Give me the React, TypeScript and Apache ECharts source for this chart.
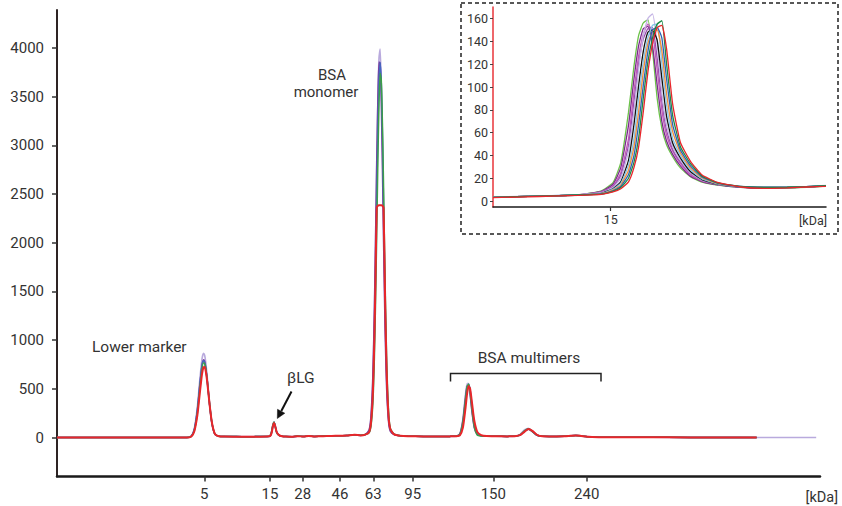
import React, { useEffect, useRef } from "react";
import * as echarts from "echarts";

// ---- Axis labels (size ladder, kDa) ----
const ladderLabels = ["5", "15", "28", "46", "63", "95", "150", "240"];
const ladderPositions = [19.31, 27.92, 32.2, 37.09, 41.45, 46.62, 57.18, 69.42];
const yTicks = [0, 500, 1000, 1500, 2000, 2500, 3000, 3500, 4000];
const insetYTicks = [0, 20, 40, 60, 80, 100, 120, 140, 160];

// ---- Main electropherogram (migration time, arbitrary units) ----
const migrationTime = [
  0, 10, 17.0, 17.6, 18.0, 18.4, 18.7, 19.0, 19.2, 19.35, 19.5, 19.7, 20.0, 20.3, 20.7, 21.2,
  22, 23.5, 25, 26.5, 27.5,
  27.9, 28.1, 28.3, 28.45, 28.6, 28.8, 29.1, 29.5, 30,
  30.8, 31.5, 32.3, 33, 33.8, 34.5, 35.3, 36, 37, 38, 39, 39.8, 40.4,
  40.9, 41.15, 41.4, 41.6, 41.75, 41.9, 42.05, 42.2, 42.35, 42.5, 42.65, 42.8, 43.0, 43.2, 43.45, 43.7, 44.2, 45,
  46, 48, 50, 51.5, 52.3,
  52.8, 53.2, 53.5, 53.75, 53.95, 54.15, 54.4, 54.7, 55.1, 55.6, 56.3,
  57.5, 59, 60,
  60.7, 61.3, 61.8, 62.3, 62.9, 63.6, 64.5,
  65.5, 66.5, 67.3, 68, 68.7, 69.5, 71, 73, 76, 80, 86, 91.7, 96, 99.5,
];

const sampleLavender = [
  0, 0, 0, 17, 95, 320, 580, 805, 865, 845, 770, 614, 355, 153, 34, 15,
  12, 10, 9, 10, 11,
  16, 55, 135, 162, 110, 48, 22, 13, 10,
  9, 15, 11, 17, 12, 14, 16, 18, 19, 21, 29, 23, 31,
  70, 195, 585, 1257, 1950, 2733, 3430, 3898, 3990, 3630, 2990, 2200, 1257, 585, 195, 70, 30, 18,
  15, 12, 11, 12, 14,
  40, 190, 415, 555, 555, 450, 260, 100, 32, 18, 14,
  13, 12, 14,
  33, 80, 95, 61, 23, 13, 12,
  12, 13, 19, 23, 17, 9, 5, 4, 3, 2, 2, 1, 1, 1,
];

const samplePurple = [
  0, 0, 0, 14, 80, 280, 520, 735, 798, 785, 720, 585, 340, 150, 33, 14,
  11, 10, 9, 10, 11,
  15, 48, 128, 158, 115, 52, 23, 13, 10,
  9, 14, 11, 16, 12, 14, 16, 18, 19, 21, 28, 23, 31,
  77, 223, 651, 1345, 2060, 2830, 3470, 3857, 3843, 3440, 2770, 2010, 1100, 507, 164, 62, 30, 18,
  15, 12, 11, 12, 14,
  37, 180, 390, 532, 532, 435, 255, 100, 30, 18, 14,
  13, 12, 14,
  27, 68, 85, 60, 24, 13, 12,
  12, 13, 18, 22, 16, 8, 4, 3, 2, 2, 1, 1, null, null,
];

const sampleBlue = [
  0, 0, 0, 14, 85, 290, 530, 740, 788, 770, 705, 565, 330, 145, 32, 14,
  11, 10, 9, 10, 11,
  13, 42, 118, 155, 122, 57, 25, 14, 10,
  9, 14, 10, 16, 11, 13, 15, 17, 18, 20, 27, 22, 30,
  57, 151, 454, 1020, 1655, 2387, 3120, 3645, 3850, 3645, 3120, 2387, 1425, 693, 220, 84, 32, 18,
  15, 12, 11, 12, 14,
  28, 135, 330, 500, 545, 490, 320, 135, 35, 18, 14,
  13, 12, 14,
  25, 67, 88, 66, 26, 13, 12,
  12, 13, 18, 22, 16, 8, 4, 3, 2, 2, 1, 1, null, null,
];

const sampleGreen = [
  0, 0, 0, 12, 70, 250, 480, 700, 765, 760, 705, 580, 345, 155, 36, 14,
  11, 10, 9, 10, 11,
  16, 52, 132, 160, 112, 50, 22, 13, 10,
  9, 15, 11, 17, 12, 14, 16, 18, 19, 21, 29, 23, 31,
  48, 114, 355, 827, 1390, 2070, 2820, 3420, 3740, 3670, 3230, 2575, 1610, 827, 280, 90, 35, 18,
  15, 12, 11, 12, 14,
  33, 159, 360, 522, 551, 469, 283, 110, 23, 16, 14,
  13, 12, 14,
  28, 72, 90, 63, 25, 13, 12,
  12, 13, 18, 22, 16, 8, 4, 3, 2, 2, 1, 1, null, null,
];

const sampleRed = [
  0, 0, 0, 11, 65, 230, 443, 650, 723, 725, 680, 563, 337, 155, 37, 14,
  10, 9, 8, 9, 10,
  14, 40, 115, 150, 118, 55, 25, 14, 10,
  8, 14, 10, 16, 11, 13, 15, 17, 18, 20, 28, 22, 30,
  55, 150, 460, 1030, 1660, 2360, 2380, 2385, 2385, 2385, 2380, 2360, 1420, 690, 220, 85, 32, 18,
  14, 12, 11, 12, 14,
  22, 104, 277, 451, 528, 500, 350, 170, 55, 25, 15,
  13, 12, 14,
  24, 61, 87, 68, 28, 13, 12,
  12, 13, 18, 22, 16, 8, 4, 3, 2, 2, 1, 1, null, null,
];

// ---- Inset: zoom on the βLG peak ----
const insetTime = [
  26.4, 27.0, 27.5, 27.8, 27.95, 28.05, 28.15, 28.22, 28.28, 28.34, 28.40, 28.46, 28.52,
  28.58, 28.64, 28.72, 28.82, 28.95, 29.1, 29.3, 29.6, 29.9, 30.2, 30.45, 30.7,
];
const insetLightGreen = [3.5, 4.5, 5.5, 9.2, 16.3, 33.8, 78, 118, 145, 156, 159, 132, 90, 64, 49.6, 39, 29.2, 21.4, 16.7, 14.2, 12.2, 11.5, 11.8, 12.3, 13.2];
const insetPurple = [3.5, 4.5, 5.5, 8.7, 14.9, 29.4, 66.6, 107, 136, 151, 153, 136, 102, 70, 53, 41, 31, 22, 17.3, 14.4, 12.3, 11.8, 12, 12.4, 13.4];
const insetMagenta = [3.5, 4.6, 5.6, 8.2, 13.5, 25, 55, 96, 127, 146, 155, 148, 115, 80, 58, 44, 33, 23, 17.8, 14.8, 12.4, 12, 12.1, 12.5, 13.5];
const insetViolet = [3.6, 4.6, 5.6, 8, 12.8, 22.6, 49, 87, 120, 142, 151, 152, 125, 88, 62.5, 45.4, 34.5, 24, 18.4, 14.8, 12.5, 12, 12.1, 12.6, 13.6];
const insetLavender = [3.8, 4.8, 5.8, 7.5, 12, 20.2, 43.6, 78, 115, 145, 160, 164, 138, 95, 67, 48, 36, 25, 18.5, 14.8, 12.8, 12.3, 12.5, 13, 14];
const insetBlack = [3.5, 4.5, 5.5, 7, 11, 17, 36, 67, 101, 131, 148, 150, 141, 108, 75, 51, 38, 26, 19, 15, 12.5, 12, 12, 12.5, 13.5];
const insetLightBlue = [3.6, 4.6, 5.6, 6.9, 10.4, 15.6, 31.6, 55, 90, 122, 143, 154, 155, 121, 85, 55, 40, 27.6, 19.6, 15.3, 12.7, 12.1, 12.2, 12.7, 13.7];
const insetOrange = [3.5, 4.5, 5.5, 6.7, 9.8, 14.2, 27.2, 47.4, 78, 113, 138, 149, 150, 132, 95, 61, 42.4, 29.2, 20.6, 15.6, 12.8, 12.2, 12.3, 12.7, 13.6];
const insetBlue = [3.5, 4.5, 5.5, 6.5, 9.2, 13, 23.4, 40, 67, 101, 131, 150, 152, 143, 108, 67, 44.8, 31, 21.4, 16, 13, 12.3, 12.3, 12.8, 13.7];
const insetDarkGreen = [3.5, 4.5, 5.5, 6.3, 8.7, 12, 20.2, 34, 55, 90, 122, 143, 155, 158, 121, 75, 47.8, 33, 22.2, 16.2, 13, 12.2, 12.3, 12.8, 13.7];
const insetRed = [3.2, 4.2, 5.2, 6.1, 8.2, 11, 17, 29.4, 47.4, 78, 113, 138, 152, 154, 134, 85, 51.4, 35, 23, 16.5, 12.5, 11.3, 11.8, 12.5, 13];

const mainTraces = [
  { values: sampleLavender, color: "#b9aadd", width: 1.6 },
  { values: samplePurple, color: "#7b3f9e", width: 1.5 },
  { values: sampleBlue, color: "#4666c0", width: 1.5 },
  { values: sampleGreen, color: "#3c9e4a", width: 1.5 },
  { values: sampleRed, color: "#e8262b", width: 2 },
];

const insetTraces = [
  { values: insetLightGreen, color: "#6cc24a" },
  { values: insetPurple, color: "#7a2a8c" },
  { values: insetMagenta, color: "#c45ab8" },
  { values: insetViolet, color: "#9b4fb0" },
  { values: insetLavender, color: "#c5b5e5" },
  { values: insetBlack, color: "#111111" },
  { values: insetLightBlue, color: "#86c5e6" },
  { values: insetOrange, color: "#f28c38" },
  { values: insetBlue, color: "#2b62b5" },
  { values: insetDarkGreen, color: "#1b8a47" },
  { values: insetRed, color: "#e8262b" },
];

function pairs(xs: number[], ys: (number | null)[]) {
  const out: number[][] = [];
  xs.forEach((x, i) => {
    const y = ys[i];
    if (y !== null && y !== undefined) out.push([x, y]);
  });
  return out;
}

const FONT = "Roboto, 'Noto Sans', sans-serif";
const TEXT = "#333333";

export default function App() {
  const ref = useRef<HTMLDivElement>(null);

  useEffect(() => {
    if (!ref.current) return;
    const chart = echarts.init(ref.current, null, { renderer: "svg" });
    const ladderFmt = (v: number) => {
      const i = ladderPositions.findIndex((p) => Math.abs(p - v) < 1e-6);
      return i >= 0 ? ladderLabels[i] : "";
    };
    const plainFmt = (v: number) => String(v);

    const series: any[] = [];
    mainTraces.forEach((t) =>
      series.push({
        type: "line",
        xAxisIndex: 0,
        yAxisIndex: 0,
        data: pairs(migrationTime, t.values),
        symbol: "none",
        smooth: 0.2,
        silent: true,
        lineStyle: { color: t.color, width: t.width },
      })
    );
    insetTraces.forEach((t) =>
      series.push({
        type: "line",
        xAxisIndex: 1,
        yAxisIndex: 1,
        data: pairs(insetTime, t.values),
        symbol: "none",
        smooth: 0.15,
        silent: true,
        lineStyle: { color: t.color, width: 1.3 },
      })
    );

    const txt = (text: string, x: number, y: number, size: number, align: string) => ({
      type: "text",
      x,
      y,
      silent: true,
      style: {
        text,
        fill: TEXT,
        fontSize: size,
        fontFamily: FONT,
        align,
        textAlign: align,
        verticalAlign: "middle",
        textVerticalAlign: "middle",
      },
    });

    chart.setOption({
      animation: false,
      backgroundColor: "#ffffff",
      textStyle: { fontFamily: FONT },
      grid: [
        { left: 57, right: 22, top: 10, bottom: 29.5 },
        { left: 493, top: 7, width: 333, height: 200 },
      ],
      xAxis: [
        {
          type: "value",
          gridIndex: 0,
          min: 0,
          max: 100,
          splitLine: { show: false },
          axisLine: { show: true, onZero: false, lineStyle: { color: "#1a1a1a", width: 2.5 } },
          axisTick: { show: true, length: 5, customValues: ladderPositions, lineStyle: { color: "#333", width: 1.5 } },
          axisLabel: { customValues: ladderPositions, formatter: ladderFmt, fontSize: 15, color: TEXT, margin: 10, fontFamily: FONT },
        },
        {
          type: "value",
          gridIndex: 1,
          min: 26.4,
          max: 30.7,
          splitLine: { show: false },
          axisLine: { show: true, onZero: false, lineStyle: { color: "#1a1a1a", width: 1.5 } },
          axisTick: { show: true, length: 4, customValues: [ladderPositions[1]], lineStyle: { color: "#333", width: 1.2 } },
          axisLabel: { customValues: [ladderPositions[1]], formatter: ladderFmt, fontSize: 12.5, color: TEXT, margin: 6, fontFamily: FONT },
        },
      ],
      yAxis: [
        {
          type: "value",
          gridIndex: 0,
          min: -400,
          max: 4390,
          splitLine: { show: false },
          axisLine: { show: true, onZero: false, lineStyle: { color: "#2e2424", width: 2 } },
          axisTick: { show: true, length: 5, customValues: yTicks, lineStyle: { color: "#333", width: 1.5 } },
          axisLabel: { customValues: yTicks, formatter: plainFmt, fontSize: 15, color: TEXT, margin: 13, fontFamily: FONT },
        },
        {
          type: "value",
          gridIndex: 1,
          min: -5,
          max: 170,
          splitLine: { show: false },
          axisLine: { show: true, onZero: false, lineStyle: { color: "#e8343a", width: 1.5 } },
          axisTick: { show: true, length: 3, customValues: insetYTicks, lineStyle: { color: "#444", width: 1 } },
          axisLabel: { customValues: insetYTicks, formatter: plainFmt, fontSize: 12.5, color: TEXT, margin: 5, fontFamily: FONT },
        },
      ],
      graphic: [
        {
          type: "rect",
          silent: true,
          shape: { x: 461, y: 3, width: 377, height: 231 },
          style: { fill: "none", stroke: "#222", lineWidth: 1.5, lineDash: [4, 3] },
        },
        txt("[kDa]", 838, 497, 14.5, "right"),
        txt("[kDa]", 827, 220, 12.5, "right"),
        txt("Lower marker", 92, 347, 15.5, "left"),
        txt("βLG", 287, 378, 15.5, "left"),
        txt("BSA", 332, 75, 15, "center"),
        txt("monomer", 326, 92, 15, "center"),
        txt("BSA multimers", 529, 358, 15.5, "center"),
        {
          type: "polyline",
          silent: true,
          shape: { points: [[450.5, 381.5], [450.5, 373.5], [601, 373.5], [601, 381.5]] },
          style: { stroke: "#222", lineWidth: 1.5, fill: "none" },
        },
        {
          type: "line",
          silent: true,
          shape: { x1: 291.5, y1: 391.5, x2: 281.3, y2: 411 },
          style: { stroke: "#111", lineWidth: 2 },
        },
        {
          type: "polygon",
          silent: true,
          shape: { points: [[277.3, 418.5], [284.8, 413.2], [277.5, 409.3]] },
          style: { fill: "#111", stroke: "#111", lineWidth: 0.5 },
        },
      ],
      series,
    });

    return () => chart.dispose();
  }, []);

  return (
    <div
      ref={ref}
      style={{ position: "fixed", left: 0, top: 0, width: 842, height: 506, background: "#fff" }}
    />
  );
}
